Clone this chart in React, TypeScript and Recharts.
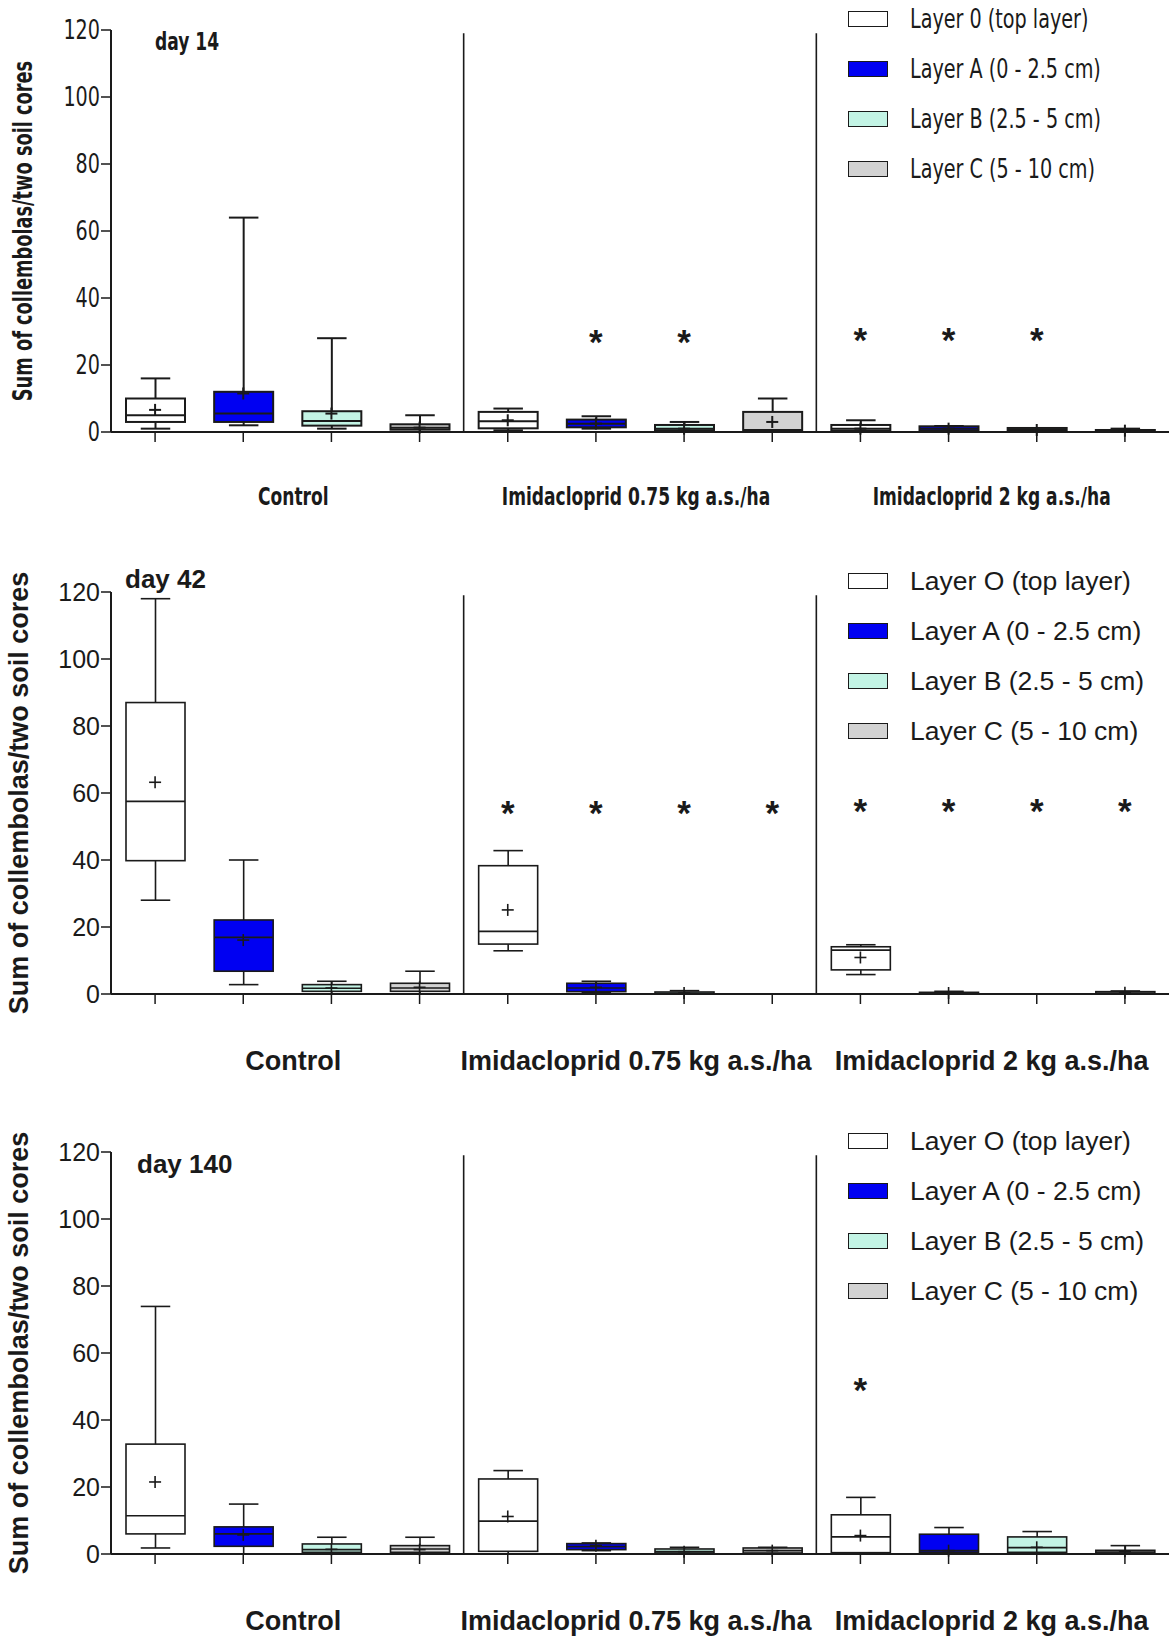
import React from 'react'
import { Bar, ComposedChart, ReferenceLine, Scatter, XAxis, YAxis } from 'recharts'

const categories = [
  'Control O', 'Control A', 'Control B', 'Control C',
  '0.75 O', '0.75 A', '0.75 B', '0.75 C',
  '2 O', '2 A', '2 B', '2 C',
]
const layerFills = ['#ffffff', '#0000f2', '#c3f4e5', '#d2d2d2']
const groupNames = ['Control', 'Imidacloprid 0.75 kg a.s./ha', 'Imidacloprid 2 kg a.s./ha']
const yTicks = [0, 20, 40, 60, 80, 100, 120]
const legend14 = ['Layer 0 (top layer)', 'Layer A (0 - 2.5 cm)', 'Layer B (2.5 - 5 cm)', 'Layer C (5 - 10 cm)']
const legendLater = ['Layer O (top layer)', 'Layer A (0 - 2.5 cm)', 'Layer B (2.5 - 5 cm)', 'Layer C (5 - 10 cm)']

// day 14
const d14Min = [1, 2, 1, 0, 0.5, 1, 0, 0, 0, 0, 0, 0]
const d14Q1 = [3, 3, 1.9, 0.7, 1.1, 1.4, 0.5, 0.3, 0.4, 0.4, 0.3, 0]
const d14Median = [5, 5.5, 3.3, 1.3, 3.2, 2.5, 1, 0.6, 1, 1, 0.6, 0.3]
const d14Q3 = [10, 12, 6.2, 2.3, 6, 3.7, 2.1, 6, 2.1, 1.7, 1.2, 0.6]
const d14Max = [16, 64, 28, 5, 7, 4.7, 3, 10, 3.5, 1.8, 1.2, 1]
const d14Mean = [6.6, 11.5, 5.5, 1.3, 3.5, 2.5, 1, 3, 1, 1, 0.6, 0.4]
const d14Star = [null, null, null, null, null, 29, 29, null, 29.5, 29.5, 29.5, null]

// day 42
const d42Min = [28, 2.8, 0, 0, 12.9, 0.5, 0, 0, 5.8, 0, 0, 0]
const d42Q1 = [39.8, 6.8, 0.8, 0.8, 14.9, 0.7, 0, 0, 7.2, 0, 0, 0]
const d42Median = [57.5, 16.9, 1.7, 1.8, 18.7, 1.8, 0.2, 0, 13.1, 0.2, 0, 0.3]
const d42Q3 = [87, 22.1, 2.8, 3.2, 38.3, 3.2, 0.6, 0, 14.1, 0.5, 0, 0.7]
const d42Max = [118, 40, 3.8, 6.8, 42.8, 3.8, 1, 0, 14.7, 0.8, 0, 0.9]
const d42Mean = [63.2, 16.1, 1.8, 2, 25.1, 2, 0.3, null, 10.9, 0.3, null, 0.4]
const d42Star = [null, null, null, null, 56, 56, 56, 56, 56.7, 56.7, 56.7, 56.7]

// day 140
const d140Min = [1.8, 0, 0, 0, 0, 1, 0, 0.3, 0, 0, 0, 0]
const d140Q1 = [6, 2.3, 0.5, 0.5, 0.8, 1.3, 0.3, 0.3, 0.4, 0.5, 0.5, 0.3]
const d140Median = [11.4, 6, 1.3, 1.5, 9.8, 2.2, 0.7, 1, 5.1, 1, 1.9, 0.6]
const d140Q3 = [32.8, 8.1, 3, 2.5, 22.4, 3.1, 1.5, 1.8, 11.7, 5.9, 5.1, 1.1]
const d140Max = [73.9, 14.9, 5, 5, 24.9, 3.3, 2, 2, 16.9, 7.9, 6.7, 2.5]
const d140Mean = [21.5, 5.7, 1.4, 1.3, 11.2, 2.5, 0.7, 1, 5.5, 1, 2, 0.8]
const d140Star = [null, null, null, null, null, null, null, null, 51, null, null, null]

const NARROW = "'Liberation Sans Narrow', 'Arial Narrow', 'DejaVu Sans Condensed', sans-serif"
const ARIAL = "'Liberation Sans', Arial, Helvetica, sans-serif"
const INK = '#1a1a1a'
const W = 1171
const H = 526
// small nudges so the group captions sit where the original put them
const groupLabelNudge = { Control: 6, 'Imidacloprid 0.75 kg a.s./ha': -4, 'Imidacloprid 2 kg a.s./ha': -1 }

const panels = [
  {
    day: 'day 14', top: 0, font: NARROW, legend: legend14, sw: 2, sqBold: 0.76, sqReg: 0.82,
    tickSize: 26, labelSize: 25, yLabelSize: 26, legendSize: 26, daySize: 25, dayX: 155, dayY: 42, yLabelX: 23, groupDy: 44,
    min: d14Min, q1: d14Q1, median: d14Median, q3: d14Q3, max: d14Max, mean: d14Mean, star: d14Star,
  },
  {
    day: 'day 42', top: 562, font: ARIAL, legend: legendLater, sw: 1.6, sqBold: 1, sqReg: 1,
    tickSize: 25, labelSize: 27, yLabelSize: 27, legendSize: 26.5, daySize: 26, dayX: 125, dayY: 17, yLabelX: 19, groupDy: 47,
    min: d42Min, q1: d42Q1, median: d42Median, q3: d42Q3, max: d42Max, mean: d42Mean, star: d42Star,
  },
  {
    day: 'day 140', top: 1122, font: ARIAL, legend: legendLater, sw: 1.6, sqBold: 1, sqReg: 1,
    tickSize: 25, labelSize: 27, yLabelSize: 27, legendSize: 26.5, daySize: 26, dayX: 137, dayY: 42, yLabelX: 19, groupDy: 47,
    min: d140Min, q1: d140Q1, median: d140Median, q3: d140Q3, max: d140Max, mean: d140Mean, star: d140Star,
  },
]

function buildRows(p) {
  return categories.map((cat, i) => ({
    cat,
    group: groupNames[Math.floor(i / 4)],
    min: p.min[i],
    q1: p.q1[i],
    median: p.median[i],
    q3: p.q3[i],
    max: p.max[i],
    mean: p.mean[i],
    star: p.star[i],
    fill: layerFills[i % 4],
  }))
}

// bar spans 0..max, so its own geometry gives the value-to-pixel mapping
function BoxShape(props) {
  const { x, y, width, height, payload, sw } = props
  if (!payload || !payload.max || !(height > 0)) return <g />
  const base = y + height
  const py = (v) => base - (v / payload.max) * height
  const cx = x + width / 2
  const cap = width / 4
  return (
    <g stroke={INK} strokeWidth={sw}>
      <line x1={cx} x2={cx} y1={py(payload.min)} y2={py(payload.max)} />
      <line x1={cx - cap} x2={cx + cap} y1={py(payload.max)} y2={py(payload.max)} />
      <line x1={cx - cap} x2={cx + cap} y1={py(payload.min)} y2={py(payload.min)} />
      <rect x={x} y={py(payload.q3)} width={width} height={Math.max(py(payload.q1) - py(payload.q3), 0.5)} fill={payload.fill} />
      <line x1={x} x2={x + width} y1={py(payload.median)} y2={py(payload.median)} />
    </g>
  )
}

function Panel({ p }) {
  const rows = buildRows(p)
  const yLabel = (props) => {
    const vb = props.viewBox || { y: 30, height: 402 }
    const cy = vb.y + vb.height / 2
    return (
      <text
        x={0}
        y={0}
        transform={`translate(${p.yLabelX} ${cy}) rotate(-90) scale(${p.sqBold} 1)`}
        textAnchor="middle"
        dominantBaseline="central"
        fontFamily={p.font}
        fontWeight="bold"
        fontSize={p.yLabelSize}
        fill={INK}
      >
        Sum of collembolas/two soil cores
      </text>
    )
  }
  const yTick = (props) => (
    <text
      x={0}
      y={0}
      transform={`translate(${props.x} ${props.y}) scale(${p.sqReg} 1)`}
      textAnchor="end"
      dominantBaseline="central"
      fontFamily={p.font}
      fontSize={p.tickSize}
      fill={INK}
    >
      {props.payload.value}
    </text>
  )
  const groupTick = (props) => (
    <text
      x={0}
      y={0}
      transform={`translate(${props.x + (groupLabelNudge[props.payload.value] || 0)} ${props.y + p.groupDy}) scale(${p.sqBold} 1)`}
      textAnchor="middle"
      dominantBaseline="central"
      fontFamily={p.font}
      fontWeight="bold"
      fontSize={p.labelSize}
      fill={INK}
    >
      {props.payload.value}
    </text>
  )
  return (
    <div style={{ position: 'absolute', left: 0, top: p.top, width: W, height: H }}>
      <ComposedChart width={W} height={H} data={rows} margin={{ top: 30, right: 2, bottom: 0, left: 0 }}>
        <XAxis
          dataKey="cat"
          interval={0}
          height={20}
          tickSize={10}
          tickFormatter={() => ''}
          axisLine={{ stroke: INK, strokeWidth: 2 }}
          tickLine={{ stroke: INK, strokeWidth: 1.5 }}
        />
        <XAxis
          xAxisId="grp"
          dataKey="group"
          allowDuplicatedCategory={false}
          interval={0}
          height={74}
          tickSize={0}
          tickMargin={0}
          axisLine={false}
          tickLine={false}
          tick={groupTick}
        />
        <YAxis
          domain={[0, 120]}
          ticks={yTicks}
          interval={0}
          width={111}
          tickSize={10}
          tickMargin={1}
          axisLine={{ stroke: INK, strokeWidth: 2 }}
          tickLine={{ stroke: INK, strokeWidth: 1.5 }}
          tick={yTick}
          label={{ content: yLabel }}
        />
        {groupNames.slice(1).map((g) => (
          <ReferenceLine
            key={g}
            xAxisId="grp"
            position="start"
            segment={[{ x: g, y: 119 }, { x: g, y: 0 }]}
            stroke={INK}
            strokeWidth={1.6}
          />
        ))}
        <Bar dataKey="max" barSize={59} isAnimationActive={false} shape={(props) => <BoxShape {...props} sw={p.sw} />} />
        <Scatter
          dataKey="mean"
          isAnimationActive={false}
          shape={(props) => {
            const { cx, cy } = props
            if (!Number.isFinite(cx) || !Number.isFinite(cy) || props.payload?.mean == null) return <g />
            return (
              <g stroke={INK} strokeWidth={p.sw}>
                <line x1={cx - 6} x2={cx + 6} y1={cy} y2={cy} />
                <line x1={cx} x2={cx} y1={cy - 6} y2={cy + 6} />
              </g>
            )
          }}
        />
        <Scatter
          dataKey="star"
          isAnimationActive={false}
          shape={(props) => {
            const { cx, cy } = props
            if (!Number.isFinite(cx) || !Number.isFinite(cy) || props.payload?.star == null) return <g />
            return (
              <text x={cx} y={cy + 19} textAnchor="middle" fontSize={35} fontWeight="bold" fontFamily={ARIAL} fill={INK}>
                *
              </text>
            )
          }}
        />
      </ComposedChart>
      {p.legend.map((label, i) => (
        <React.Fragment key={label}>
          <div
            style={{
              position: 'absolute',
              left: 848,
              top: 19 + 50 * i - 8,
              width: 38,
              height: 14,
              border: `1.5px solid ${INK}`,
              background: layerFills[i],
            }}
          />
          <div
            style={{
              position: 'absolute',
              left: 910,
              top: 19 + 50 * i - 16,
              height: 32,
              lineHeight: '32px',
              fontSize: p.legendSize,
              fontFamily: p.font,
              color: INK,
              whiteSpace: 'nowrap',
              transform: `scaleX(${p.sqReg})`,
              transformOrigin: 'left center',
            }}
          >
            {label}
          </div>
        </React.Fragment>
      ))}
      <div
        style={{
          position: 'absolute',
          left: p.dayX,
          top: p.dayY - 16,
          height: 32,
          lineHeight: '32px',
          fontSize: p.daySize,
          fontWeight: 'bold',
          fontFamily: p.font,
          color: INK,
          whiteSpace: 'nowrap',
          transform: `scaleX(${p.sqBold})`,
          transformOrigin: 'left center',
        }}
      >
        {p.day}
      </div>
    </div>
  )
}

export default function App() {
  return (
    <div style={{ position: 'absolute', left: 0, top: 0, width: W, height: 1638, background: '#fff', overflow: 'hidden' }}>
      {panels.map((p) => (
        <Panel key={p.day} p={p} />
      ))}
    </div>
  )
}
